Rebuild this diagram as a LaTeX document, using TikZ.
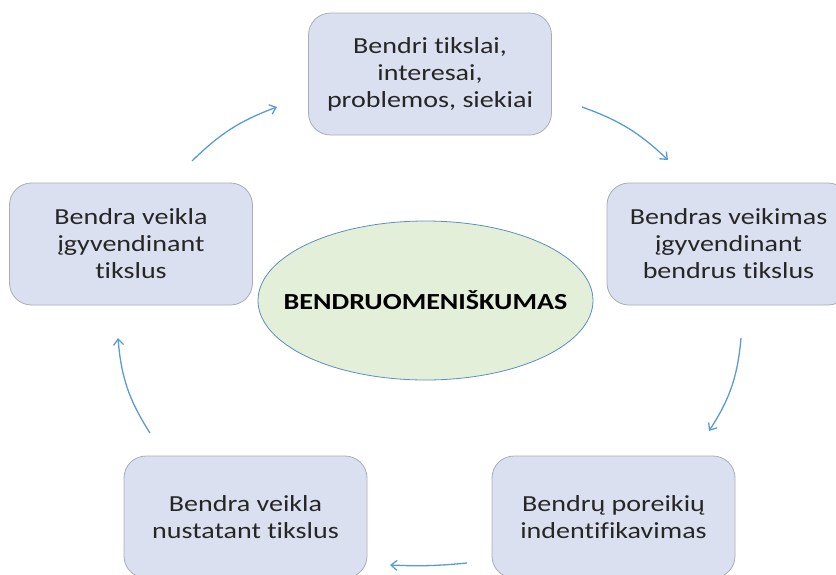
\documentclass[tikz,border=0pt]{standalone}
\usepackage{fontspec}
\setmainfont[Ligatures=NoCommon]{Carlito}
\newfontfamily\widefont[FakeStretch=1.22,Ligatures=NoCommon]{Carlito}
\usetikzlibrary{arrows.meta,shapes.geometric}
\definecolor{boxfill}{HTML}{DAE0EF}
\definecolor{boxline}{HTML}{A9ADB5}
\definecolor{ellfill}{HTML}{E3EFD9}
\definecolor{ellline}{HTML}{5E8DC2}
\definecolor{arrowc}{HTML}{5B9BD5}
\tikzset{
  stepbox/.style={draw=boxline, line width=0.8pt, fill=boxfill, rounded corners=22pt,
    minimum width=243pt, minimum height=122pt, align=center, inner sep=0pt,
    font=\widefont\fontsize{23}{27}\selectfont, text=black!85},
  centreell/.style={ellipse, draw=ellline, line width=0.8pt, fill=ellfill,
    minimum width=335pt, minimum height=159pt, inner xsep=-30pt, inner ysep=0pt,
    font=\widefont\fontsize{23}{27}\selectfont\bfseries},
  cyc/.style={draw=arrowc, line width=1.3pt, -{Straight Barb[length=6pt,width=10pt]}}
}
\begin{document}
\begin{tikzpicture}[x=1pt,y=1pt]
\useasboundingbox (0,0) rectangle (836,-574);
\clip (0,0) rectangle (836,-574);
\node[stepbox] (top) at (430,-74) {Bendri tikslai,\\interesai,\\problemos, siekiai};
\node[stepbox] (right) at (728.5,-244) {Bendras veikimas\\įgyvendinant\\bendrus tikslus};
\node[stepbox] (bright) at (613.5,-517) {Bendrų poreikių\\indentifikavimas};
\node[stepbox] (bleft) at (245.5,-517) {Bendra veikla\\nustatant tikslus};
\node[stepbox] (left) at (131,-244) {Bendra veikla\\įgyvendinant\\tikslus};
\node[centreell] (centre) at (425.5,-300.5) {BENDRUOMENIŠKUMAS};
\coordinate (a1s) at (192,-161);
\coordinate (a1e) at (277,-107);
\coordinate (a2s) at (582,-107);
\coordinate (a2e) at (668,-160);
\coordinate (a3s) at (741,-338);
\coordinate (a3e) at (709,-431);
\coordinate (a4s) at (467,-563);
\coordinate (a4e) at (390,-565);
\coordinate (a5s) at (150,-433);
\coordinate (a5e) at (118,-338);
\draw[cyc] (a1s) to[bend left=12] (a1e);
\draw[cyc] (a2s) to[bend left=12] (a2e);
\draw[cyc] (a3s) to[bend left=14] (a3e);
\draw[cyc] (a4s) to[bend left=4] (a4e);
\draw[cyc] (a5s) to[bend left=14] (a5e);
\end{tikzpicture}
\end{document}
